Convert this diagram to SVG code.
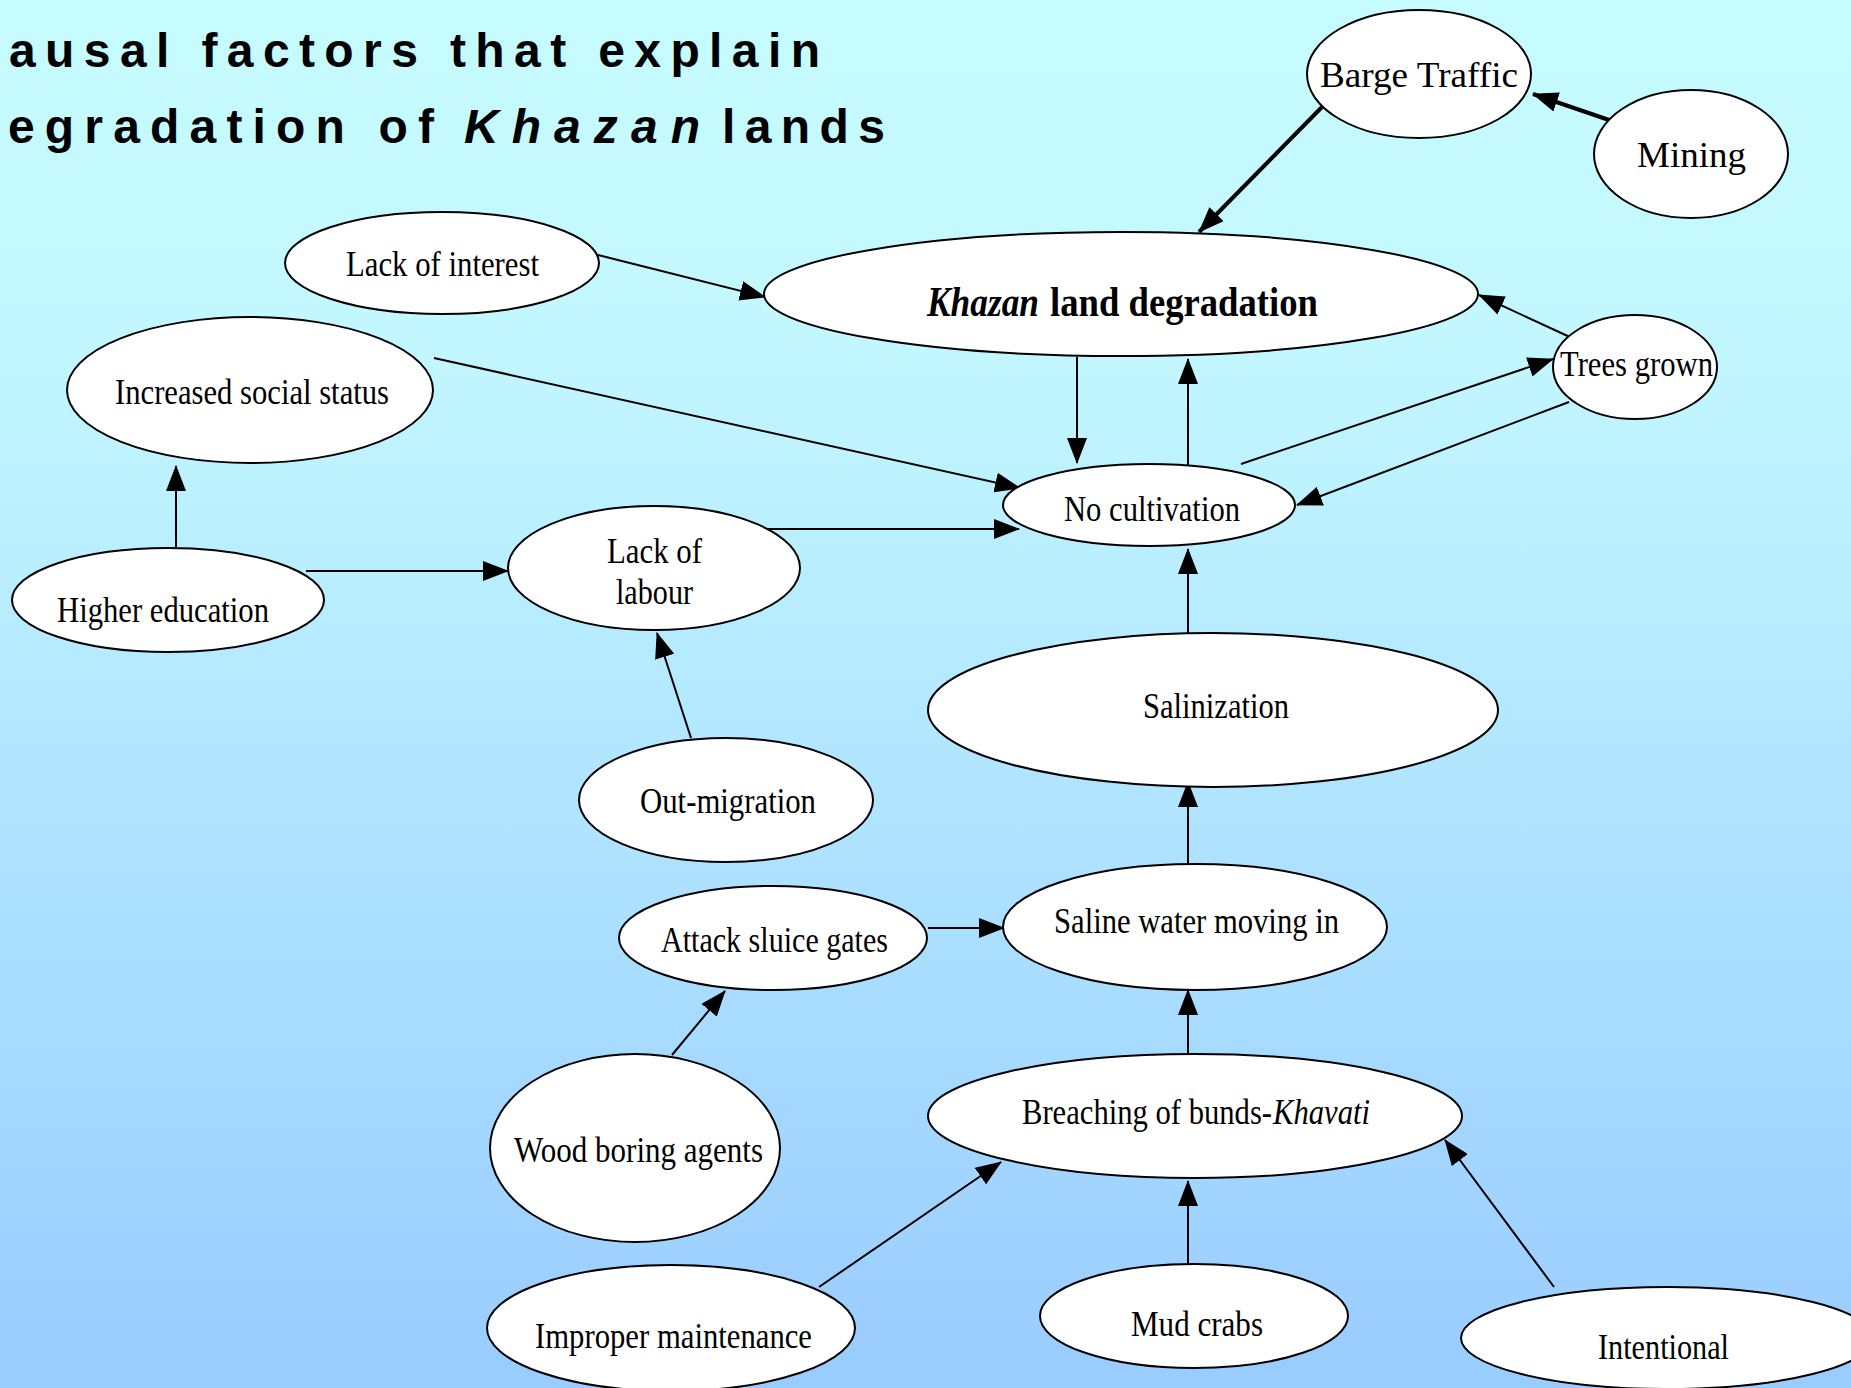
<svg xmlns="http://www.w3.org/2000/svg" width="1851" height="1388" viewBox="0 0 1851 1388">
<defs>
<linearGradient id="bg" x1="0" y1="0" x2="0" y2="1">
<stop offset="0" stop-color="#C6FCFF"/>
<stop offset="0.25" stop-color="#C2F7FF"/>
<stop offset="1" stop-color="#99CCFF"/>
</linearGradient>
<marker id="arr" markerUnits="userSpaceOnUse" markerWidth="26" markerHeight="20" refX="25" refY="10" orient="auto">
<path d="M0,0 L26,10 L0,20 Z" fill="#000"/>
</marker>
<style>
.n ellipse{fill:#fff;stroke:#000;stroke-width:2}
.n text{font-family:"Liberation Serif","Times New Roman",serif;font-size:36px;fill:#000}
.n text.b{font-size:42px;font-weight:bold}
.n text.i{font-style:italic}
.e line{stroke:#000;stroke-width:2;marker-end:url(#arr)}
.e line.thick{stroke-width:4}
.title{font-family:"Liberation Sans",Arial,sans-serif;font-size:48px;font-weight:bold;fill:#000}
</style>
</defs>
<rect x="0" y="0" width="1851" height="1388" fill="url(#bg)"/>
<g id="title">
<text class="title" x="9" y="67" textLength="811" lengthAdjust="spacing">ausal factors that explain</text>
<text class="title" x="8" y="143" textLength="426" lengthAdjust="spacing">egradation of</text>
<text class="title" x="464" y="143" textLength="236" lengthAdjust="spacing" font-style="italic">Khazan</text>
<text class="title" x="722" y="143" textLength="163" lengthAdjust="spacing">lands</text>
</g>
<g id="connectors" class="e">
<line class="thick" x1="1322" y1="107" x2="1199" y2="232"/>
<line class="thick" x1="1612" y1="121" x2="1533" y2="94"/>
<line x1="598" y1="255" x2="765" y2="297"/>
<line x1="1572" y1="338" x2="1479" y2="295"/>
<line x1="1077" y1="357" x2="1077" y2="463"/>
<line x1="1188" y1="465" x2="1188" y2="359"/>
<line x1="1241" y1="464" x2="1553" y2="359"/>
<line x1="1569" y1="402" x2="1297" y2="505"/>
<line x1="434" y1="358" x2="1020" y2="488"/>
<line x1="764" y1="529" x2="1019" y2="529"/>
<line x1="176" y1="548" x2="176" y2="466"/>
<line x1="306" y1="571" x2="508" y2="571"/>
<line x1="691" y1="738" x2="657" y2="633"/>
<line x1="1188" y1="633" x2="1188" y2="549"/>
<line x1="1188" y1="864" x2="1188" y2="782"/>
<line x1="928" y1="928" x2="1004" y2="928"/>
<line x1="672" y1="1055" x2="725" y2="991"/>
<line x1="1188" y1="1054" x2="1188" y2="990"/>
<line x1="819" y1="1287" x2="1001" y2="1162"/>
<line x1="1188" y1="1265" x2="1188" y2="1181"/>
<line x1="1554" y1="1287" x2="1445" y2="1140"/>
</g>
<g id="barge" class="n"><ellipse cx="1419" cy="74" rx="112" ry="64"/><text x="1320" y="87" textLength="198" lengthAdjust="spacingAndGlyphs">Barge Traffic</text></g>
<g id="mining" class="n"><ellipse cx="1691" cy="154" rx="97" ry="64"/><text x="1637" y="167" textLength="109" lengthAdjust="spacingAndGlyphs">Mining</text></g>
<g id="khazan" class="n"><ellipse cx="1121" cy="294" rx="357" ry="62"/><text class="b i" x="927" y="316" textLength="112" lengthAdjust="spacingAndGlyphs">Khazan</text><text class="b" x="1050" y="316" textLength="268" lengthAdjust="spacingAndGlyphs">land degradation</text></g>
<g id="lack-interest" class="n"><ellipse cx="442" cy="263" rx="157" ry="51"/><text x="346" y="276" textLength="193" lengthAdjust="spacingAndGlyphs">Lack of interest</text></g>
<g id="social-status" class="n"><ellipse cx="250" cy="390" rx="183" ry="73"/><text x="115" y="404" textLength="274" lengthAdjust="spacingAndGlyphs">Increased social status</text></g>
<g id="higher-education" class="n"><ellipse cx="168" cy="600" rx="156" ry="52"/><text x="57" y="622" textLength="212" lengthAdjust="spacingAndGlyphs">Higher education</text></g>
<g id="lack-labour" class="n"><ellipse cx="654" cy="568" rx="146" ry="62"/><text x="607" y="563" textLength="95" lengthAdjust="spacingAndGlyphs">Lack of</text><text x="616" y="604" textLength="77" lengthAdjust="spacingAndGlyphs">labour</text></g>
<g id="no-cultivation" class="n"><ellipse cx="1149" cy="505" rx="146" ry="41"/><text x="1064" y="521" textLength="176" lengthAdjust="spacingAndGlyphs">No cultivation</text></g>
<g id="trees-grown" class="n"><ellipse cx="1635" cy="367" rx="82" ry="52"/><text x="1560" y="376" textLength="153" lengthAdjust="spacingAndGlyphs">Trees grown</text></g>
<g id="salinization" class="n"><ellipse cx="1213" cy="710" rx="285" ry="77"/><text x="1143" y="718" textLength="146" lengthAdjust="spacingAndGlyphs">Salinization</text></g>
<g id="out-migration" class="n"><ellipse cx="726" cy="800" rx="147" ry="62"/><text x="640" y="813" textLength="176" lengthAdjust="spacingAndGlyphs">Out-migration</text></g>
<g id="attack-sluice" class="n"><ellipse cx="773" cy="938" rx="154" ry="52"/><text x="661" y="952" textLength="227" lengthAdjust="spacingAndGlyphs">Attack sluice gates</text></g>
<g id="saline-water" class="n"><ellipse cx="1195" cy="927" rx="192" ry="63"/><text x="1054" y="933" textLength="285" lengthAdjust="spacingAndGlyphs">Saline water moving in</text></g>
<g id="wood-boring" class="n"><ellipse cx="635" cy="1148" rx="145" ry="94"/><text x="514" y="1162" textLength="249" lengthAdjust="spacingAndGlyphs">Wood boring agents</text></g>
<g id="breaching" class="n"><ellipse cx="1195" cy="1116" rx="267" ry="62"/><text x="1022" y="1124" textLength="250" lengthAdjust="spacingAndGlyphs">Breaching of bunds-</text><text class="i" x="1273" y="1124" textLength="97" lengthAdjust="spacingAndGlyphs">Khavati</text></g>
<g id="improper-maintenance" class="n"><ellipse cx="671" cy="1328" rx="184" ry="63"/><text x="535" y="1348" textLength="277" lengthAdjust="spacingAndGlyphs">Improper maintenance</text></g>
<g id="mud-crabs" class="n"><ellipse cx="1194" cy="1316" rx="154" ry="52"/><text x="1131" y="1336" textLength="132" lengthAdjust="spacingAndGlyphs">Mud crabs</text></g>
<g id="intentional" class="n"><ellipse cx="1667" cy="1338" rx="206" ry="51"/><text x="1598" y="1359" textLength="131" lengthAdjust="spacingAndGlyphs">Intentional</text></g>
</svg>
